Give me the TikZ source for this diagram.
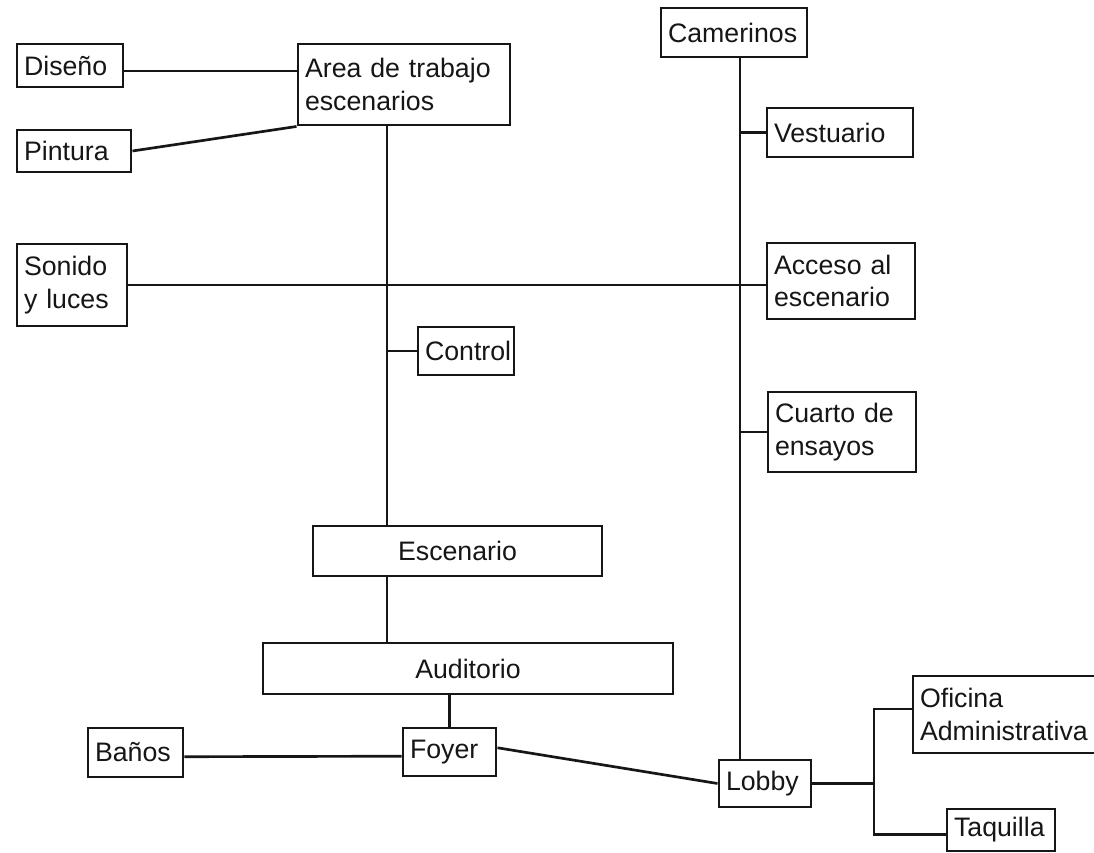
\documentclass[tikz,border=0pt]{standalone}
\usepackage{fontspec}
\setmainfont{Liberation Sans}
\begin{document}
\begin{tikzpicture}[x=0.025cm,y=-0.025cm,
  box/.style={draw=ink, line width=2.1pt, inner xsep=5pt, inner ysep=2pt,
    font=\fontsize{19}{23}\selectfont, text=ink},
  link/.style={draw=ink, line width=1.9pt},
  thinlink/.style={draw=ink, line width=1.0pt}]
\definecolor{ink}{HTML}{161616}
\useasboundingbox[fill=white] (0,0) rectangle (1094,853);
% box: name, left, top, right, bottom, alignment, text
\newcommand\bx[7]{%
  \node[box, align=#6,
    minimum width={(#4-#2)*0.025cm}, minimum height={(#5-#3)*0.025cm},
    text width={(#4-#2)*0.025cm-10pt}]
    (#1) at ({(#2+#4)/2},{(#3+#5)/2}) {#7};}

\bx{dis}{17}{44}{123}{87}{left}{Diseño}
\bx{area}{298}{44}{510}{125}{left}{Area de trabajo\\escenarios}
\bx{pin}{17}{130}{131}{172}{left}{Pintura}
\bx{cam}{661}{8}{807}{57}{left}{Camerinos}
\bx{ves}{767}{108}{913}{157}{left}{Vestuario}
\bx{son}{17}{244}{127}{326}{left}{Sonido\\y luces}
\bx{acc}{767}{243}{915}{319}{left}{Acceso al\\escenario}
\bx{ctl}{418}{327}{514}{375}{left}{Control}
\bx{cua}{768}{392}{916}{472}{left}{Cuarto de\\ensayos}
\bx{esc}{313}{526}{602}{576}{center}{Escenario}
\bx{aud}{263}{643}{673}{694}{center}{Auditorio}
\bx{ban}{88}{728}{183}{777}{left}{Baños}
\bx{foy}{403}{728}{496}{776}{left}{Foyer}
\bx{lob}{719}{760}{811}{807}{left}{Lobby}
\bx{ofi}{913}{676}{1102}{753}{left}{Oficina\\Administrativa}
\bx{taq}{947}{809}{1055}{851}{left}{Taquilla}

% vertical spines and the branch near the lobby
\coordinate (spL) at (387,0);
\coordinate (spR) at (740,0);
\coordinate (br) at (874,0);

% left spine: work area down to the stage
\draw[link] (area.south -| spL) -- (esc.north -| spL);
\draw[link] ([yshift=-4pt]dis.east) -- ([yshift=-4pt]area.west |- dis.east);
\draw[link] (pin.east) -- (area.south west);
\draw[link] (ctl.west) -- (ctl.west -| spL);
\draw[link] (esc.south -| spL) -- (aud.north -| spL);
\draw[link] (aud.south -| foy.north) -- (foy.north);
\draw[link] ([yshift=-3pt]ban.east) -- ([yshift=-3pt]foy.west);
\draw[link] ([yshift=3pt]foy.east) -- (lob.west);

% right spine: dressing rooms down to the lobby
\draw[link] (cam.south -| spR) -- (lob.north -| spR);
\draw[link] (ves.west) -- (ves.west -| spR);
\draw[link] (cua.west) -- (cua.west -| spR);

% sound and lights across to the stage access
\draw[thinlink] (son.east) -- (son.east -| spL);
\draw[link] (son.east -| spL) -- (acc.west |- son.east);

% lobby branch
\draw[link] (lob.east) -- (lob.east -| br);
\draw[link] ([yshift=4pt]ofi.west) -- ([yshift=4pt]ofi.west -| br) |- ([yshift=-3pt]taq.west);
\end{tikzpicture}
\end{document}
